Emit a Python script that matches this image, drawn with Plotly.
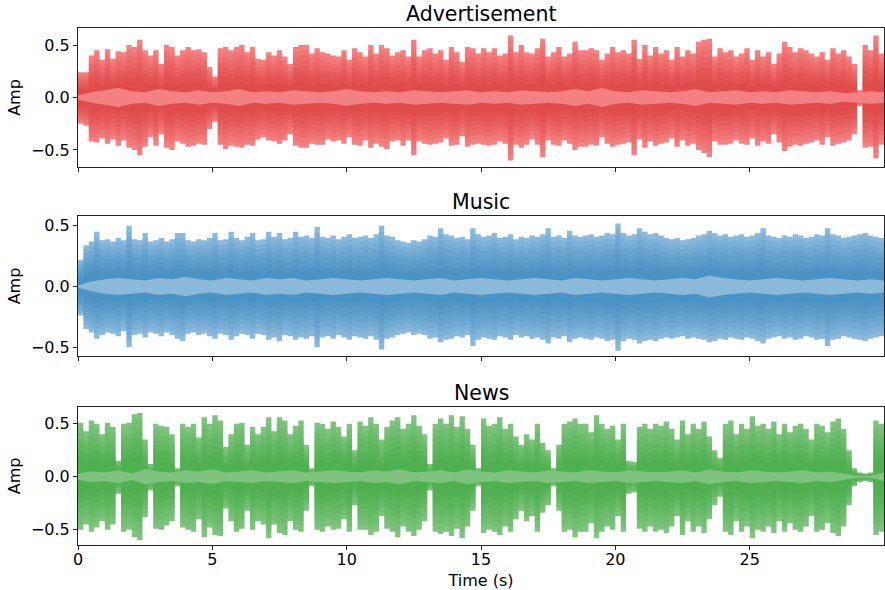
import numpy as np
import plotly.graph_objects as go

# Envelope samples every 0.2 s (peak above / below zero), 0 .. 30 s
STEP = 0.2
# Low-level core band sampled every 0.5 s
CORE_STEP = 0.5

titles = ["Advertisement", "Music", "News"]

adv_upper = [
    0.24, 0.24, 0.40, 0.45, 0.36, 0.46, 0.37, 0.44, 0.43, 0.50, 0.48, 0.55, 0.45, 0.40, 0.45, 0.32, 0.50, 0.48, 0.40, 0.45,
    0.48, 0.45, 0.46, 0.43, 0.29, 0.20, 0.47, 0.48, 0.45, 0.48, 0.50, 0.43, 0.48, 0.37, 0.36, 0.43, 0.40, 0.45, 0.39, 0.32,
    0.48, 0.50,
    0.50, 0.42, 0.47, 0.43, 0.42, 0.40, 0.39, 0.45, 0.36, 0.47, 0.43, 0.39, 0.50, 0.42, 0.50, 0.47, 0.40, 0.43, 0.45, 0.39,
    0.55, 0.39, 0.45, 0.47, 0.42, 0.45, 0.36, 0.48, 0.43, 0.34, 0.48, 0.47, 0.42, 0.47, 0.43, 0.47, 0.40, 0.42, 0.59, 0.43,
    0.50, 0.43, 0.42, 0.47, 0.56, 0.39, 0.43, 0.48, 0.39, 0.42, 0.53, 0.45,
    0.45, 0.47, 0.45, 0.36, 0.42, 0.48, 0.43, 0.45, 0.42, 0.55, 0.37, 0.50, 0.40, 0.48, 0.42, 0.45, 0.36, 0.48, 0.39, 0.45,
    0.42, 0.53, 0.55, 0.56, 0.39, 0.47, 0.43, 0.45, 0.39, 0.42, 0.47, 0.36, 0.45, 0.39, 0.43, 0.32, 0.42, 0.53, 0.48, 0.43,
    0.47, 0.45, 0.42, 0.39, 0.43, 0.36, 0.47, 0.42, 0.45, 0.39, 0.32, 0.07, 0.50, 0.45, 0.59, 0.42, 0.56,
]
adv_lower = [
    -0.25, -0.27, -0.42, -0.43, -0.39, -0.44, -0.40, -0.46, -0.41, -0.48, -0.50, -0.55, -0.47, -0.38, -0.46, -0.35, -0.48, -0.50, -0.42, -0.44,
    -0.47, -0.46, -0.44, -0.45, -0.30, -0.23, -0.45, -0.49, -0.46, -0.47, -0.48, -0.45, -0.46, -0.40, -0.38, -0.41, -0.42, -0.44, -0.41, -0.35,
    -0.46, -0.48,
    -0.48, -0.44, -0.45, -0.45, -0.40, -0.42, -0.41, -0.44, -0.38, -0.45, -0.46, -0.41, -0.48, -0.44, -0.47, -0.49, -0.42, -0.41, -0.46, -0.41,
    -0.55, -0.42, -0.44, -0.45, -0.44, -0.43, -0.39, -0.46, -0.45, -0.37, -0.47, -0.45, -0.44, -0.45, -0.46, -0.45, -0.42, -0.44, -0.60, -0.45,
    -0.48, -0.45, -0.40, -0.45, -0.57, -0.41, -0.45, -0.46, -0.41, -0.44, -0.50, -0.47,
    -0.47, -0.45, -0.46, -0.38, -0.44, -0.47, -0.45, -0.44, -0.43, -0.55, -0.40, -0.48, -0.42, -0.46, -0.44, -0.43, -0.39, -0.47, -0.41, -0.46,
    -0.44, -0.50, -0.53, -0.57, -0.42, -0.45, -0.45, -0.44, -0.41, -0.44, -0.45, -0.39, -0.46, -0.42, -0.44, -0.35, -0.43, -0.51, -0.47, -0.45,
    -0.46, -0.44, -0.43, -0.41, -0.45, -0.38, -0.46, -0.44, -0.43, -0.41, -0.35, -0.08, -0.48, -0.47, -0.58, -0.45, -0.53,
]
adv_core = [
    0.02, 0.05, 0.07, 0.09, 0.06, 0.05, 0.08, 0.06, 0.05, 0.07, 0.05, 0.06, 0.08, 0.05, 0.06, 0.05, 0.07, 0.06, 0.05, 0.06,
    0.08, 0.06, 0.05, 0.06, 0.05, 0.07, 0.06, 0.05, 0.06, 0.07, 0.05, 0.06, 0.05, 0.07, 0.06, 0.05, 0.06, 0.08, 0.06, 0.09,
    0.06, 0.05, 0.07, 0.06, 0.05, 0.06, 0.08, 0.05, 0.06, 0.07, 0.05, 0.06, 0.05, 0.07, 0.06, 0.05, 0.06, 0.04, 0.05, 0.06,
    0.05,
]

music_upper = [
    0.22, 0.34, 0.37, 0.45, 0.38, 0.39, 0.37, 0.40, 0.38, 0.50, 0.39, 0.38, 0.44, 0.37, 0.38, 0.40, 0.37, 0.39, 0.44, 0.44,
    0.38, 0.37, 0.39, 0.38, 0.40, 0.44, 0.38, 0.39, 0.45, 0.40, 0.38, 0.41, 0.44, 0.38, 0.39, 0.45, 0.41, 0.44, 0.39, 0.40,
    0.45, 0.41,
    0.42, 0.40, 0.49, 0.41, 0.40, 0.42, 0.39, 0.41, 0.43, 0.40, 0.41, 0.42, 0.40, 0.43, 0.50, 0.42, 0.41, 0.38, 0.37, 0.36,
    0.38, 0.37, 0.39, 0.42, 0.41, 0.48, 0.43, 0.42, 0.40, 0.41, 0.39, 0.48, 0.43, 0.41, 0.42, 0.44, 0.40, 0.41, 0.43, 0.39,
    0.41, 0.40, 0.42, 0.41, 0.43, 0.48, 0.41, 0.42, 0.40, 0.46, 0.42, 0.41,
    0.42, 0.43, 0.41, 0.42, 0.44, 0.43, 0.52, 0.44, 0.42, 0.43, 0.48, 0.45, 0.43, 0.44, 0.42, 0.40, 0.39, 0.40, 0.38, 0.39,
    0.40, 0.42, 0.43, 0.46, 0.44, 0.42, 0.43, 0.41, 0.42, 0.43, 0.41, 0.42, 0.44, 0.48, 0.42, 0.41, 0.40, 0.42, 0.41, 0.43,
    0.42, 0.40, 0.41, 0.43, 0.42, 0.48, 0.43, 0.42, 0.40, 0.41, 0.42, 0.43, 0.44, 0.42, 0.41, 0.40, 0.39,
]
music_lower = [
    -0.24, -0.35, -0.38, -0.43, -0.40, -0.38, -0.39, -0.41, -0.37, -0.50, -0.40, -0.39, -0.42, -0.38, -0.39, -0.41, -0.38, -0.40, -0.43, -0.45,
    -0.39, -0.38, -0.40, -0.39, -0.41, -0.43, -0.39, -0.40, -0.44, -0.41, -0.39, -0.40, -0.43, -0.39, -0.40, -0.44, -0.42, -0.45, -0.40, -0.41,
    -0.44, -0.42,
    -0.43, -0.41, -0.50, -0.42, -0.41, -0.43, -0.40, -0.42, -0.44, -0.41, -0.42, -0.43, -0.41, -0.44, -0.52, -0.43, -0.42, -0.40, -0.39, -0.38,
    -0.40, -0.39, -0.40, -0.43, -0.42, -0.46, -0.44, -0.43, -0.41, -0.42, -0.40, -0.49, -0.44, -0.42, -0.43, -0.44, -0.41, -0.42, -0.44, -0.40,
    -0.42, -0.41, -0.43, -0.42, -0.44, -0.47, -0.42, -0.43, -0.41, -0.46, -0.43, -0.42,
    -0.43, -0.44, -0.42, -0.43, -0.45, -0.44, -0.53, -0.45, -0.43, -0.44, -0.47, -0.45, -0.44, -0.45, -0.43, -0.42, -0.43, -0.42, -0.41, -0.43,
    -0.42, -0.43, -0.44, -0.46, -0.45, -0.43, -0.44, -0.42, -0.43, -0.44, -0.42, -0.43, -0.45, -0.47, -0.43, -0.42, -0.41, -0.43, -0.42, -0.44,
    -0.43, -0.41, -0.42, -0.44, -0.43, -0.49, -0.44, -0.43, -0.41, -0.42, -0.43, -0.44, -0.45, -0.43, -0.42, -0.41, -0.40,
]
music_core = [
    0.01, 0.04, 0.06, 0.07, 0.06, 0.05, 0.07, 0.06, 0.08, 0.06, 0.05, 0.07, 0.06, 0.05, 0.07, 0.06, 0.07, 0.05, 0.06, 0.07,
    0.06, 0.05, 0.06, 0.07, 0.06, 0.05, 0.06, 0.07, 0.05, 0.06, 0.07, 0.06, 0.05, 0.06, 0.07, 0.06, 0.05, 0.07, 0.06, 0.05,
    0.06, 0.07, 0.06, 0.05, 0.06, 0.07, 0.06, 0.09, 0.07, 0.06, 0.05, 0.06, 0.07, 0.06, 0.05, 0.06, 0.07, 0.06, 0.05, 0.06,
    0.05,
]

news_upper = [
    0.51, 0.43, 0.53, 0.50, 0.40, 0.51, 0.47, 0.15, 0.50, 0.51, 0.59, 0.60, 0.35, 0.12, 0.50, 0.48, 0.47, 0.40, 0.08, 0.50,
    0.47, 0.50, 0.37, 0.56, 0.50, 0.58, 0.53, 0.28, 0.40, 0.50, 0.51, 0.30, 0.47, 0.40, 0.47, 0.56, 0.43, 0.56, 0.53, 0.40,
    0.48, 0.53,
    0.30, 0.08, 0.51, 0.50, 0.45, 0.52, 0.47, 0.38, 0.50, 0.25, 0.52, 0.48, 0.56, 0.50, 0.35, 0.47, 0.53, 0.56, 0.45, 0.50,
    0.58, 0.48, 0.40, 0.12, 0.50, 0.55, 0.50, 0.58, 0.47, 0.57, 0.45, 0.30, 0.08, 0.55, 0.48, 0.50, 0.56, 0.45, 0.50, 0.38,
    0.30, 0.40, 0.35, 0.50, 0.32, 0.25, 0.08, 0.30, 0.50, 0.52, 0.55, 0.50,
    0.50, 0.42, 0.58, 0.50, 0.45, 0.48, 0.35, 0.50, 0.15, 0.14, 0.47, 0.50, 0.45, 0.50, 0.48, 0.52, 0.45, 0.35, 0.53, 0.40,
    0.50, 0.45, 0.52, 0.38, 0.25, 0.18, 0.50, 0.53, 0.40, 0.50, 0.45, 0.57, 0.48, 0.50, 0.45, 0.52, 0.40, 0.50, 0.42, 0.48,
    0.50, 0.45, 0.35, 0.50, 0.48, 0.42, 0.52, 0.55, 0.45, 0.25, 0.08, 0.04, 0.03, 0.04, 0.53, 0.50, 0.55,
]
news_lower = [
    -0.50, -0.45, -0.52, -0.48, -0.42, -0.50, -0.45, -0.16, -0.52, -0.50, -0.57, -0.60, -0.38, -0.13, -0.49, -0.50, -0.46, -0.42, -0.09, -0.48,
    -0.50, -0.52, -0.40, -0.57, -0.48, -0.55, -0.56, -0.30, -0.42, -0.52, -0.49, -0.32, -0.50, -0.42, -0.45, -0.58, -0.45, -0.53, -0.55, -0.42,
    -0.50, -0.52,
    -0.32, -0.09, -0.50, -0.52, -0.47, -0.50, -0.49, -0.40, -0.52, -0.27, -0.50, -0.50, -0.55, -0.52, -0.37, -0.49, -0.52, -0.57, -0.47, -0.52,
    -0.56, -0.50, -0.42, -0.13, -0.52, -0.54, -0.52, -0.56, -0.49, -0.58, -0.47, -0.32, -0.09, -0.53, -0.50, -0.52, -0.55, -0.47, -0.52, -0.40,
    -0.32, -0.42, -0.37, -0.52, -0.34, -0.27, -0.09, -0.32, -0.52, -0.50, -0.57, -0.52,
    -0.52, -0.44, -0.58, -0.52, -0.47, -0.50, -0.37, -0.52, -0.16, -0.15, -0.49, -0.52, -0.47, -0.52, -0.50, -0.53, -0.47, -0.37, -0.55, -0.42,
    -0.52, -0.47, -0.53, -0.40, -0.27, -0.19, -0.52, -0.55, -0.42, -0.52, -0.47, -0.58, -0.50, -0.52, -0.47, -0.53, -0.42, -0.52, -0.44, -0.50,
    -0.52, -0.47, -0.37, -0.52, -0.50, -0.44, -0.53, -0.56, -0.47, -0.27, -0.09, -0.05, -0.04, -0.05, -0.55, -0.52, -0.53,
]
news_core = [
    0.03, 0.05, 0.04, 0.06, 0.03, 0.07, 0.05, 0.04, 0.06, 0.05, 0.07, 0.04, 0.05, 0.06, 0.04, 0.05, 0.06, 0.04, 0.05, 0.06,
    0.05, 0.04, 0.06, 0.05, 0.07, 0.04, 0.05, 0.06, 0.04, 0.07, 0.05, 0.04, 0.06, 0.05, 0.04, 0.06, 0.05, 0.04, 0.06, 0.05,
    0.04, 0.06, 0.05, 0.04, 0.05, 0.06, 0.04, 0.07, 0.05, 0.04, 0.06, 0.05, 0.04, 0.05, 0.06, 0.04, 0.05, 0.03, 0.01, 0.01,
    0.04,
]

y_ranges = [(-0.662, 0.662), (-0.570, 0.578), (-0.644, 0.660)]
y_ticks = [-0.5, 0.0, 0.5]
x_ticks = [0, 5, 10, 15, 20, 25]

# light tint, dense body colour
palettes = [
    ("rgb(245,128,129)", "rgba(214,39,40,{a})"),
    ("rgb(139,185,220)", "rgba(31,119,180,{a})"),
    ("rgb(126,196,126)", "rgba(44,160,44,{a})"),
]

series = [
    (adv_upper, adv_lower, adv_core),
    (music_upper, music_lower, music_core),
    (news_upper, news_lower, news_core),
]

domains = [(0.7312, 1.0), (0.3663, 0.6357), (0.0, 0.2674)]
# shading levels (fraction of the envelope) for the denser body
body_levels = [0.9, 0.8, 0.7, 0.6, 0.5, 0.4, 0.3]
body_alpha = 0.11

fig = go.Figure()


def add_band(x, lo, hi, color, shape, idx):
    xa = "x" if idx == 1 else f"x{idx}"
    ya = "y" if idx == 1 else f"y{idx}"
    common = dict(mode="lines", line=dict(width=0, shape=shape), hoverinfo="skip",
                  showlegend=False, xaxis=xa, yaxis=ya)
    fig.add_trace(go.Scatter(x=x, y=lo, **common))
    fig.add_trace(go.Scatter(x=x, y=hi, fill="tonexty", fillcolor=color, **common))


for i, ((up, lo, core), (light, dark)) in enumerate(zip(series, palettes), start=1):
    up = np.asarray(up, dtype=float)
    lo = np.asarray(lo, dtype=float)
    core = np.asarray(core, dtype=float)
    assert len(up) == len(lo)
    t = np.arange(len(up)) * STEP
    tc = np.arange(len(core)) * CORE_STEP
    # outer peak envelope
    add_band(t, lo, up, light, "hv", i)
    # denser body of the waveform towards the centre
    for frac in body_levels:
        add_band(t, lo * frac, up * frac, dark.format(a=body_alpha), "hv", i)
    # quiet core band around zero
    add_band(tc, -core, core, light, "linear", i)

axis_font = dict(family="DejaVu Sans, sans-serif", size=16, color="#000")
layout = dict(
    width=885, height=590,
    margin=dict(l=78, r=1, t=28, b=45),
    paper_bgcolor="white", plot_bgcolor="white",
    font=axis_font,
    showlegend=False,
)
annotations = []
for i in range(1, 4):
    xk = "xaxis" if i == 1 else f"xaxis{i}"
    yk = "yaxis" if i == 1 else f"yaxis{i}"
    layout[xk] = dict(
        domain=[0, 1], range=[0, 30.0], anchor="y" if i == 1 else f"y{i}",
        tickvals=x_ticks, ticks="outside", ticklen=4, tickwidth=1, tickcolor="#222",
        showline=True, linecolor="#222", linewidth=1, mirror=True,
        showgrid=False, zeroline=False, showticklabels=(i == 3),
        tickfont=axis_font,
        matches=None if i == 1 else "x",
    )
    if i == 3:
        layout[xk]["ticklabelstandoff"] = -4
        layout[xk]["title"] = dict(text="Time (s)", font=axis_font, standoff=6)
    layout[yk] = dict(
        domain=list(domains[i - 1]), range=list(y_ranges[i - 1]),
        anchor="x" if i == 1 else f"x{i}",
        tickvals=y_ticks, tickformat=".1f", ticks="outside", ticklen=4, tickwidth=1,
        tickcolor="#222", showline=True, linecolor="#222", linewidth=1, mirror=True,
        showgrid=False, zeroline=False, tickfont=axis_font,
        title=dict(text="Amp", font=axis_font, standoff=6),
    )
    annotations.append(dict(
        text=titles[i - 1], x=0.5, xref="paper", y=domains[i - 1][1], yref="paper",
        xanchor="center", yanchor="bottom", yshift=0, showarrow=False,
        font=dict(family="DejaVu Sans, sans-serif", size=20.5, color="#000"),
    ))
layout["annotations"] = annotations
fig.update_layout(**layout)

fig.write_html("out.html")
